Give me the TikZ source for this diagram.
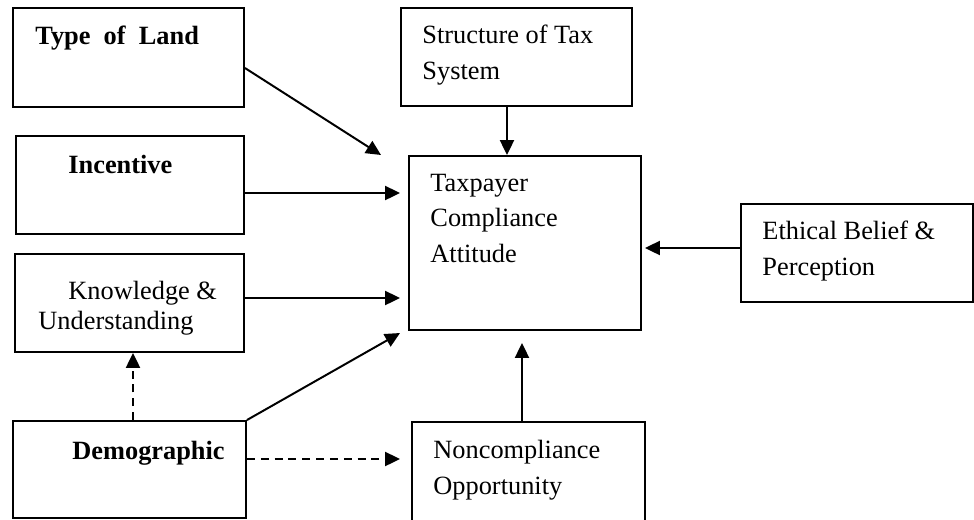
\documentclass[tikz,border=0pt]{standalone}
\usepackage{fontspec}
\setmainfont{Liberation Serif}
\usetikzlibrary{arrows.meta,calc}
\tikzset{
  box/.style={rectangle, draw, line width=0.9pt, inner sep=0pt},
  lbl/.style={anchor=base west, inner sep=0pt, align=left, font=\fontsize{12}{16}\selectfont},
  arr/.style={-{Triangle[length=6.8pt,width=6.4pt]}, line width=0.9pt},
  dasharr/.style={arr, dash pattern=on 3.6pt off 2.7pt}
}
\begin{document}
\begin{tikzpicture}[x=0.016cm, y=-0.016cm]
		\useasboundingbox (0,0) rectangle (974,519);
		
		%Boxes
		\node (land) at (128.5,57.5) [box, minimum width=3.696cm, minimum height=1.584cm]{};
		\node (incentive) at (130,185) [box, minimum width=3.648cm, minimum height=1.568cm]{};
		\node (knowledge) at (129.5,303) [box, minimum width=3.664cm, minimum height=1.568cm]{};
		\node (demographic) at (129.5,469.5) [box, minimum width=3.728cm, minimum height=1.552cm]{};
		\node (structure) at (516.5,57) [box, minimum width=3.696cm, minimum height=1.568cm]{};
		\node (taxpayer) at (525,243) [box, minimum width=3.712cm, minimum height=2.784cm]{};
		\node (ethical) at (857,253) [box, minimum width=3.712cm, minimum height=1.568cm]{};
		\node (noncompliance) at (528.5,473.5) [box, minimum width=3.728cm, minimum height=1.648cm]{};
		
		%Texts (base of the last line)
		\node (landText) at (35,44) [lbl]{\textbf{Type~ of~ Land}};
		\node (incentiveText) at (68,173) [lbl]{\textbf{Incentive}};
		\node (knowledgeText) at (38,329) [lbl, font=\fontsize{12}{13.3}\selectfont]{\hspace*{0.48cm}Knowledge \&\\Understanding};
		\node (demographicText) at (72,459) [lbl]{\textbf{Demographic}};
		\node (structureText) at (422,79) [lbl]{Structure of Tax\\System};
		\node (taxpayerText) at (430,262) [lbl]{Taxpayer\\Compliance\\Attitude};
		\node (ethicalText) at (762,275) [lbl]{Ethical Belief \&\\Perception};
		\node (noncomplianceText) at (433,494) [lbl]{Noncompliance\\Opportunity};
		
		%Arrow ends
		\coordinate (landEnd) at (381,155);
		\coordinate (incentiveEnd) at (400,193);
		\coordinate (knowledgeEnd) at (400,298);
		\coordinate (demographicEnd) at (400,333);
		\coordinate (opportunityEnd) at (400,459);
		\coordinate (structureEnd) at (507,155);
		\coordinate (noncomplianceEnd) at (522,343);
		\coordinate (ethicalEnd) at (645,248);
		
		%Arrows
		\draw[arr] ($(land.east)+(0,10.5)$) -- (landEnd);
		\draw[arr] ($(incentive.east)+(0,8)$) -- (incentiveEnd);
		\draw[arr] ($(knowledge.east)+(0,-5)$) -- (knowledgeEnd);
		\draw[arr] (demographic.north east) -- (demographicEnd);
		\draw[dasharr] ($(demographic.north)+(3.5,0)$) -- ($(knowledge.south)+(3.5,0)$);
		\draw[dasharr] ($(demographic.east)+(0,-10.5)$) -- (opportunityEnd);
		\draw[arr] ($(structure.south)+(-9.5,0)$) -- (structureEnd);
		\draw[arr] ($(noncompliance.north)+(-6.5,0)$) -- (noncomplianceEnd);
		\draw[arr] ($(ethical.west)+(0,-5)$) -- (ethicalEnd);
		
\end{tikzpicture}
\end{document}
